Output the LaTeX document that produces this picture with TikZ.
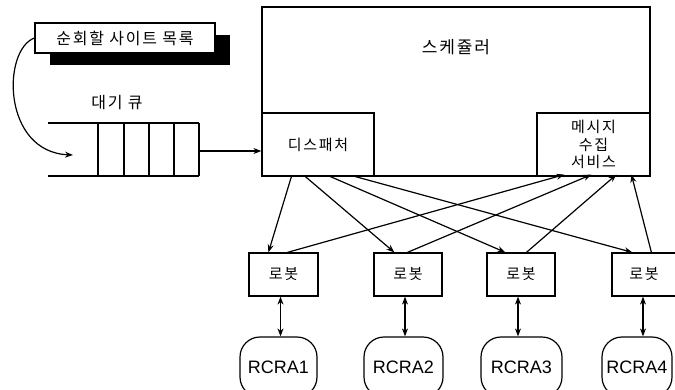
\documentclass[tikz,border=0pt]{standalone}
\usepackage{fontspec}
\setmainfont{Liberation Sans}
\newfontfamily\kr[LetterSpace=11]{Noto Sans CJK KR}
\usetikzlibrary{arrows.meta,calc}
\tikzset{
  line/.style={line width=1.2pt},
  tip/.tip={Stealth[length=8pt,width=6pt]},
  arr/.style={line, -tip},
  dbl/.style={line, tip-tip},
  box/.style={draw, line width=1.2pt, rectangle, inner sep=0pt, fill=white},
  robotbox/.style={box, minimum height=43pt, font=\kr\fontsize{15}{17}\selectfont},
  agent/.style={draw, line width=1.2pt, rounded corners=20pt, minimum height=60pt,
                inner sep=0pt, font=\fontsize{18}{20}\selectfont},
}
\begin{document}
\begin{tikzpicture}[x=1pt,y=-1pt]
  \useasboundingbox (0,0) rectangle (675,389);
  \clip (0,0) rectangle (675,389);

  % list of sites to crawl, with a drop shadow
  \fill[black] (50,35) rectangle (230,65);
  \node[box, minimum width=180pt, minimum height=30pt, font=\kr\fontsize{16}{18}\selectfont]
    (sites) at (125,38) {순회할 사이트 목록};

  % waiting queue
  \node[font=\kr\fontsize{16}{18}\selectfont] (qlabel) at (117,103) {대기 큐};
  \draw[line] (48,123) -- (199,123);
  \draw[line] (48,176) -- (199,176);
  \foreach \x in {98,124,149,174,199} \draw[line] (\x,123) -- (\x,176);
  \coordinate (qin) at (73,155);
  \coordinate (qout) at (199,151);

  % scheduler with its dispatcher and message-collecting service
  \node[box, minimum width=388pt, minimum height=169pt] (sched) at (456,91.5) {};
  \node[font=\kr\fontsize{17}{19}\selectfont] (schedlabel) at (456,47) {스케쥴러};
  \node[box, minimum width=112pt, minimum height=63pt, font=\kr\fontsize{15}{17}\selectfont]
    (disp) at (318,144.5) {디스패처};
  \node[box, minimum width=113pt, minimum height=63pt, align=center,
        font=\kr\fontsize{15}{17.5}\selectfont]
    (msg) at (593.5,144.5) {메시지\\수집\\서비스};

  % robots
  \node[robotbox, minimum width=69pt] (r1) at (283.5,274.5) {로봇};
  \node[robotbox, minimum width=68pt] (r2) at (408,274.5) {로봇};
  \node[robotbox, minimum width=68pt] (r3) at (521,274.5) {로봇};
  \node[robotbox, minimum width=64pt] (r4) at (644,274.5) {로봇};

  % crawler agents
  \node[agent, minimum width=77pt] (c1) at (278.5,367) {RCRA1};
  \node[agent, minimum width=79pt] (c2) at (403.5,367) {RCRA2};
  \node[agent, minimum width=81pt] (c3) at (521.5,367) {RCRA3};
  \node[agent, minimum width=70pt] (c4) at (637,367) {RCRA4};

  % connectors
  \draw[arr] (sites.west) .. controls (2,50) and (2,152) .. (qin);
  \draw[arr] (qout) -- (disp.west |- qout);

  \draw[arr] ([xshift=30pt]disp.south west) -- ([xshift=20pt]r1.north west);
  \draw[arr] ([xshift=44pt]disp.south west) -- ([xshift=21pt]r2.north west);
  \draw[arr] ([xshift=69pt]disp.south west) -- ([xshift=19pt]r3.north west);
  \draw[arr] ([xshift=94pt]disp.south west) -- ([xshift=21pt]r4.north west);

  \draw[arr] ([xshift=39pt]r1.north west) -- ([xshift=28pt,yshift=2pt]msg.south west);
  \draw[arr] ([xshift=34pt]r2.north west) -- ([xshift=55pt,yshift=2pt]msg.south west);
  \draw[arr] ([xshift=40pt]r3.north west) -- ([xshift=80pt,yshift=2pt]msg.south west);
  \draw[arr] ([xshift=40pt]r4.north west) -- ([xshift=95pt,yshift=2pt]msg.south west);

  \draw[dbl] ([xshift=-3pt]r1.south) -- ([xshift=-3pt]r1.south |- c1.north);
  \draw[dbl] ([xshift=-3pt]r2.south) -- ([xshift=-3pt]r2.south |- c2.north);
  \draw[dbl] ([xshift=-3pt]r3.south) -- ([xshift=-3pt]r3.south |- c3.north);
  \draw[dbl] ([xshift=-1pt]r4.south) -- ([xshift=-1pt]r4.south |- c4.north);
\end{tikzpicture}
\end{document}
